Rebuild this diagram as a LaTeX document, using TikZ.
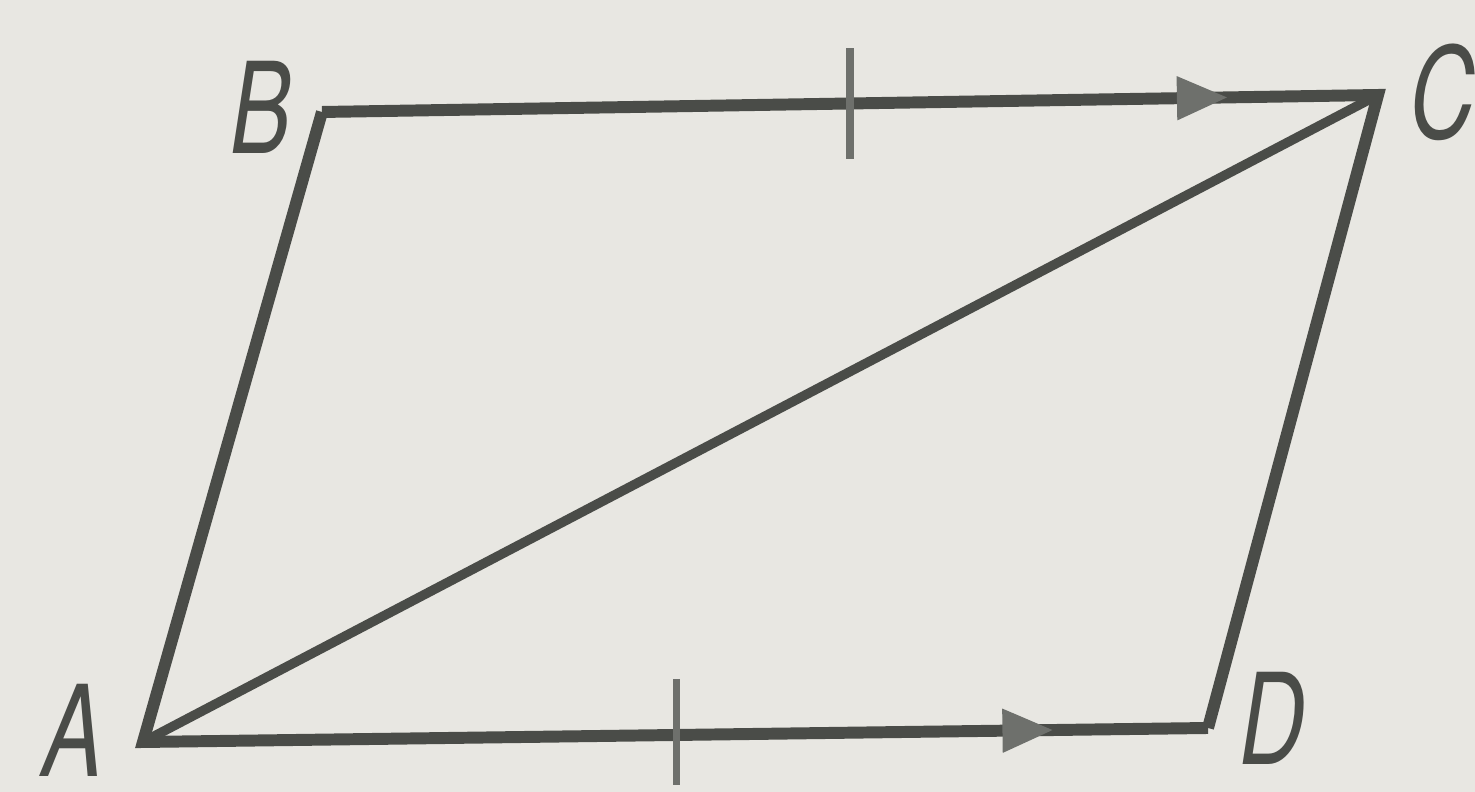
\documentclass[tikz,border=0pt]{standalone}
\usepackage{fontspec}
\setmainfont{TeX Gyre Heros}
\usetikzlibrary{arrows.meta,decorations.markings,calc}
\definecolor{bg}{HTML}{E8E7E2}
\definecolor{ink}{HTML}{4A4C48}
\definecolor{tickc}{HTML}{6E706C}
\tikzset{
  edge/.style={draw=ink, line width=3.4pt, line join=miter},
  diag/.style={draw=ink, line width=2.7pt},
  midarrow/.style={postaction={decorate, decoration={markings,
      mark=at position #1 with {\arrow[tickc]{Triangle[length=0.5cm,width=0.44cm]}}}}},
  tickmark/.style={draw=tickc, line width=2pt},
  lbl/.style={font=\fontsize{36}{36}\selectfont\itshape, text=ink, inner sep=0pt, xscale=0.72}
}
\begin{document}
\begin{tikzpicture}[x=0.01cm,y=-0.01cm]
\useasboundingbox[fill=bg] (0,0) rectangle (1475,792);
\coordinate (A) at (143,742);
\coordinate (B) at (322,112);
\coordinate (C) at (1378,95);
\coordinate (D) at (1208,728);
\draw[edge] (D) -- (A) -- (B);
\draw[edge] (B) -- (C) -- (D);
\draw[diag] (A) -- (C);
\path[midarrow=0.857] (B) -- (C);
\path[midarrow=0.854] (A) -- (D);
\coordinate (t1) at ($(B)!0.5!(C)$);
\draw[tickmark] ([yshift=0.55cm]t1) -- ([yshift=-0.55cm]t1);
\coordinate (t2) at ($(A)!0.501!(D)$);
\draw[tickmark] ([yshift=0.56cm]t2) -- ([yshift=-0.5cm]t2);
\node[lbl] (lA) at (73,730) {A};
\node[lbl] (lB) at (261,107) {B};
\node[lbl] (lC) at (1442,92) {C};
\node[lbl] (lD) at (1272,718) {D};
\end{tikzpicture}
\end{document}
